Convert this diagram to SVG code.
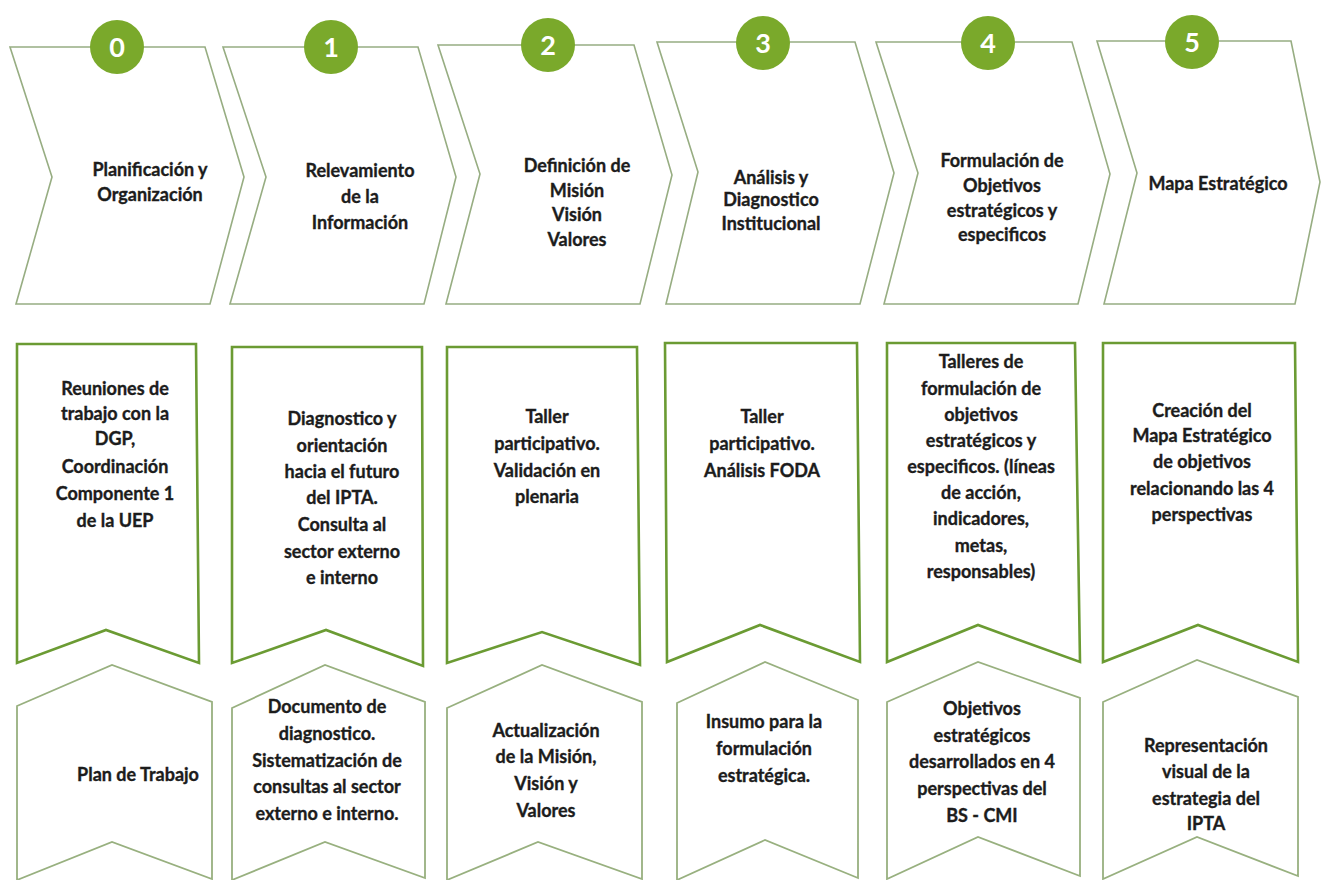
<svg xmlns="http://www.w3.org/2000/svg" width="1321" height="880" viewBox="0 0 1321 880">
<style>
.bg{fill:#ffffff}
.chev{fill:#ffffff;stroke:#97ad82;stroke-width:1.6;stroke-linejoin:miter}
.band{fill:#ffffff;stroke:#6b9b33;stroke-width:2.6;stroke-linejoin:miter}
.low{fill:#ffffff;stroke:#98b07f;stroke-width:1.8;stroke-linejoin:miter}
.dot{fill:#7aa92b}
.num{font-family:Lato,"Liberation Sans",sans-serif;font-weight:700;font-size:27px;fill:#ffffff;text-anchor:middle}
.t{font-family:Lato,"Liberation Sans",sans-serif;font-weight:700;font-size:18px;fill:#1c1c1c;stroke:#1c1c1c;stroke-width:0.35;text-anchor:middle}
</style>
<rect class="bg" x="0" y="0" width="1321" height="880"/>
<g id="connectors"></g>

<!-- Top row chevrons -->
<g id="step0">
<polygon class="chev" points="10,47 205,47 244,177 210,304 16,304 52,177"/>
<circle class="dot" cx="117" cy="47" r="27"/>
<text class="num" x="117" y="57">0</text>
<text class="t" x="150" y="176">Planificación y</text>
<text class="t" x="150" y="201">Organización</text>
</g>
<g id="step1">
<polygon class="chev" points="223,47 418,47 456,177 424,304 230,304 266,177"/>
<circle class="dot" cx="331" cy="47" r="27"/>
<text class="num" x="331" y="57">1</text>
<text class="t" x="360" y="177">Relevamiento</text>
<text class="t" x="360" y="203">de la</text>
<text class="t" x="360" y="229">Información</text>
</g>
<g id="step2">
<polygon class="chev" points="438,45 634,45 672,175 640,304 446,304 480,174"/>
<circle class="dot" cx="548" cy="45" r="27"/>
<text class="num" x="548" y="55">2</text>
<text class="t" x="577" y="172">Definición de</text>
<text class="t" x="577" y="197">Misión</text>
<text class="t" x="577" y="221">Visión</text>
<text class="t" x="577" y="246">Valores</text>
</g>
<g id="step3">
<polygon class="chev" points="657,42 855,42 894,173 860,304 666,304 698,172"/>
<circle class="dot" cx="763" cy="43" r="27"/>
<text class="num" x="763" y="53">3</text>
<text class="t" x="771" y="184">Análisis y</text>
<text class="t" x="771" y="206">Diagnostico</text>
<text class="t" x="771" y="230">Institucional</text>
</g>
<g id="step4">
<polygon class="chev" points="876,42 1072,42 1110,174 1078,304 884,304 918,173"/>
<circle class="dot" cx="988" cy="43" r="27"/>
<text class="num" x="988" y="53">4</text>
<text class="t" x="1002" y="167">Formulación de</text>
<text class="t" x="1002" y="192">Objetivos</text>
<text class="t" x="1002" y="217">estratégicos y</text>
<text class="t" x="1002" y="241">especificos</text>
</g>
<g id="step5">
<polygon class="chev" points="1097,41 1291,41 1320,182 1295,304 1104,304 1137,173"/>
<circle class="dot" cx="1192" cy="42" r="27"/>
<text class="num" x="1192" y="52">5</text>
<text class="t" x="1218" y="190">Mapa Estratégico</text>
</g>

<!-- Middle row banners -->
<g id="activity0">
<polygon class="band" points="17,344 196,344 199,663 106,630 17,663"/>
<text class="t" x="115" y="395">Reuniones de</text>
<text class="t" x="115" y="420">trabajo con la</text>
<text class="t" x="115" y="445">DGP,</text>
<text class="t" x="115" y="473">Coordinación</text>
<text class="t" x="115" y="500">Componente 1</text>
<text class="t" x="115" y="527">de la UEP</text>
</g>
<g id="activity1">
<polygon class="band" points="232,347 422,347 423,666 326,630 232,663"/>
<text class="t" x="342" y="425">Diagnostico y</text>
<text class="t" x="342" y="452">orientación</text>
<text class="t" x="342" y="478">hacia el futuro</text>
<text class="t" x="342" y="504">del IPTA.</text>
<text class="t" x="342" y="531">Consulta al</text>
<text class="t" x="342" y="558">sector externo</text>
<text class="t" x="342" y="584">e interno</text>
</g>
<g id="activity2">
<polygon class="band" points="447,347 637,347 640,665 542,632 447,663"/>
<text class="t" x="547" y="423">Taller</text>
<text class="t" x="547" y="450">participativo.</text>
<text class="t" x="547" y="477">Validación en</text>
<text class="t" x="547" y="503">plenaria</text>
</g>
<g id="activity3">
<polygon class="band" points="665,343 857,343 860,662 760,625 667,662"/>
<text class="t" x="762" y="423">Taller</text>
<text class="t" x="762" y="450">participativo.</text>
<text class="t" x="762" y="477">Análisis FODA</text>
</g>
<g id="activity4">
<polygon class="band" points="887,343 1075,343 1080,662 978,625 887,662"/>
<text class="t" x="981" y="368">Talleres de</text>
<text class="t" x="981" y="395">formulación de</text>
<text class="t" x="981" y="421">objetivos</text>
<text class="t" x="981" y="447">estratégicos y</text>
<text class="t" x="981" y="473">especificos. (líneas</text>
<text class="t" x="981" y="499">de acción,</text>
<text class="t" x="981" y="525">indicadores,</text>
<text class="t" x="981" y="552">metas,</text>
<text class="t" x="981" y="578">responsables)</text>
</g>
<g id="activity5">
<polygon class="band" points="1103,343 1295,343 1298,662 1198,625 1103,662"/>
<text class="t" x="1202" y="417">Creación del</text>
<text class="t" x="1202" y="442">Mapa Estratégico</text>
<text class="t" x="1202" y="468">de objetivos</text>
<text class="t" x="1202" y="495">relacionando las 4</text>
<text class="t" x="1202" y="521">perspectivas</text>
</g>

<!-- Bottom row results -->
<g id="result0">
<polygon class="low" points="17,706 112,665 212,702 212,879 112,842 17,880"/>
<text class="t" x="138" y="781">Plan de Trabajo</text>
</g>
<g id="result1">
<polygon class="low" points="232,708 325,665 425,702 425,878 325,842 232,880"/>
<text class="t" x="327" y="713">Documento de</text>
<text class="t" x="327" y="740">diagnostico.</text>
<text class="t" x="327" y="767">Sistematización de</text>
<text class="t" x="327" y="793">consultas al sector</text>
<text class="t" x="327" y="820">externo e interno.</text>
</g>
<g id="result2">
<polygon class="low" points="447,708 542,665 642,702 642,879 538,842 447,880"/>
<text class="t" x="546" y="737">Actualización</text>
<text class="t" x="546" y="763">de la Misión,</text>
<text class="t" x="546" y="790">Visión y</text>
<text class="t" x="546" y="817">Valores</text>
</g>
<g id="result3">
<polygon class="low" points="677,703 765,662 858,700 858,878 765,840 677,880"/>
<text class="t" x="764" y="728">Insumo para la</text>
<text class="t" x="764" y="755">formulación</text>
<text class="t" x="764" y="782">estratégica.</text>
</g>
<g id="result4">
<polygon class="low" points="887,702 978,662 1080,698 1080,876 978,837 887,879"/>
<text class="t" x="982" y="715">Objetivos</text>
<text class="t" x="982" y="742">estratégicos</text>
<text class="t" x="982" y="768">desarrollados en 4</text>
<text class="t" x="982" y="795">perspectivas del</text>
<text class="t" x="982" y="822">BS - CMI</text>
</g>
<g id="result5">
<polygon class="low" points="1103,702 1197,660 1298,697 1298,876 1197,837 1103,879"/>
<text class="t" x="1206" y="752">Representación</text>
<text class="t" x="1206" y="778">visual de la</text>
<text class="t" x="1206" y="805">estrategia del</text>
<text class="t" x="1206" y="830">IPTA</text>
</g>
</svg>
